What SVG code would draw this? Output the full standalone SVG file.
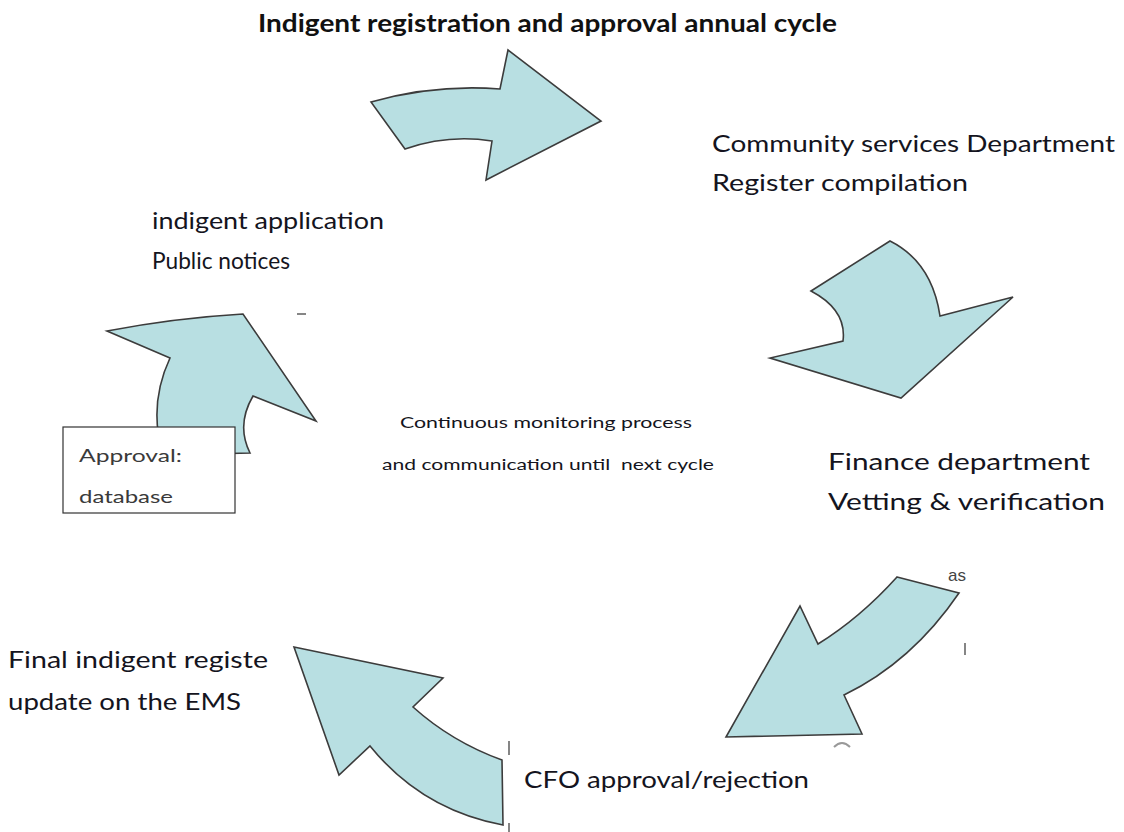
<svg xmlns="http://www.w3.org/2000/svg" width="1124" height="832" viewBox="0 0 1124 832">
<style>
.arr{fill:#B8DFE2;stroke:#3c3c3c;stroke-width:1.6;stroke-linejoin:miter}
.lbl{font-family:Lato,"Open Sans","Liberation Sans",sans-serif;font-size:24px;fill:#141420}
.ttl{font-family:Lato,"Open Sans","Liberation Sans",sans-serif;font-size:24px;font-weight:bold;fill:#111}
.sm{font-family:Lato,"Open Sans","Liberation Sans",sans-serif;font-size:14.5px;fill:#141420;white-space:pre}
.box{font-family:Lato,"Open Sans","Liberation Sans",sans-serif;font-size:17px;fill:#3a3a3a}
.frag{stroke:#444;stroke-width:1.3;fill:none}
</style>
<defs>
<clipPath id="clipAs"><rect x="940" y="560" width="27" height="30"/></clipPath>
</defs>
<rect width="1124" height="832" fill="#fff"/>
<text class="ttl" x="258" y="32" textLength="579" lengthAdjust="spacingAndGlyphs">Indigent registration and approval annual cycle</text>
<g id="connectors">
<path id="arrow-top" class="arr" d="M371,102 Q435,84 500,89 L508,50 L601,121 L486,180 L492,141 Q448,134 405,149 Z"/>
<path id="arrow-right" class="arr" d="M890,241 Q932,262 940,316 L1013,297 L901,398 L770,358 L843,341 Q847,310 811,291 Z"/>
<path id="arrow-lower-right" class="arr" d="M897,577 L959,593 Q912,662 844,695 L862,734 L726,737 L800,606 L818,644 Q860,618 897,577 Z"/>
<path id="arrow-bottom" class="arr" d="M294,647 L443,678 L413,707 Q452,742 502,760 L503,825 Q422,810 370,746 L339,775 Z"/>
<path id="arrow-left" class="arr" d="M170,358 L107,331 Q175,318 243,314 L316,421 L253,396 Q236,425 250,453 L163,455 Q148,405 170,358 Z"/>
</g>
<g id="node-community">
<text class="lbl" x="712" y="152" textLength="403" lengthAdjust="spacingAndGlyphs">Community services Department</text>
<text class="lbl" x="712" y="191" textLength="256" lengthAdjust="spacingAndGlyphs">Register compilation</text>
</g>
<g id="node-application">
<text class="lbl" x="152" y="229" textLength="232" lengthAdjust="spacingAndGlyphs">indigent application</text>
<text class="lbl" x="152" y="269" textLength="138" lengthAdjust="spacingAndGlyphs">Public notices</text>
</g>
<g id="node-finance">
<text class="lbl" x="828" y="470" textLength="262" lengthAdjust="spacingAndGlyphs">Finance department</text>
<text class="lbl" x="828" y="510" textLength="277" lengthAdjust="spacingAndGlyphs">Vetting &amp; verification</text>
</g>
<g id="node-final">
<text class="lbl" x="8" y="668" textLength="260" lengthAdjust="spacingAndGlyphs">Final indigent registe</text>
<text class="lbl" x="8" y="710" textLength="233" lengthAdjust="spacingAndGlyphs">update on the EMS</text>
</g>
<g id="node-cfo">
<text class="lbl" x="524" y="788" textLength="285" lengthAdjust="spacingAndGlyphs">CFO approval/rejection</text>
</g>
<g id="node-center">
<text class="sm" x="400" y="428" textLength="292" lengthAdjust="spacingAndGlyphs">Continuous monitoring process</text>
<text class="sm" x="382" y="470" textLength="332" lengthAdjust="spacingAndGlyphs" xml:space="preserve">and communication until  next cycle</text>
</g>
<g id="node-approval">
<rect x="63" y="427" width="172" height="86" fill="#fff" stroke="#333" stroke-width="1.2"/>
<text class="box" x="79" y="462" textLength="103" lengthAdjust="spacingAndGlyphs">Approval:</text>
<text class="box" x="79" y="503" textLength="94" lengthAdjust="spacingAndGlyphs">database</text>
</g>
<g id="fragments">
<line class="frag" x1="297" y1="314" x2="306" y2="314"/>
<text x="948" y="581" clip-path="url(#clipAs)" font-family="Liberation Sans, sans-serif" font-size="17" fill="#444">as</text>
<line class="frag" x1="965" y1="643" x2="965" y2="655"/>
<line class="frag" x1="509" y1="741" x2="509" y2="755"/>
<line class="frag" x1="509" y1="823" x2="509" y2="832"/>
<path d="M834,747 Q842,739 850,747" stroke="#999" stroke-width="2" fill="none"/>
</g>
</svg>
